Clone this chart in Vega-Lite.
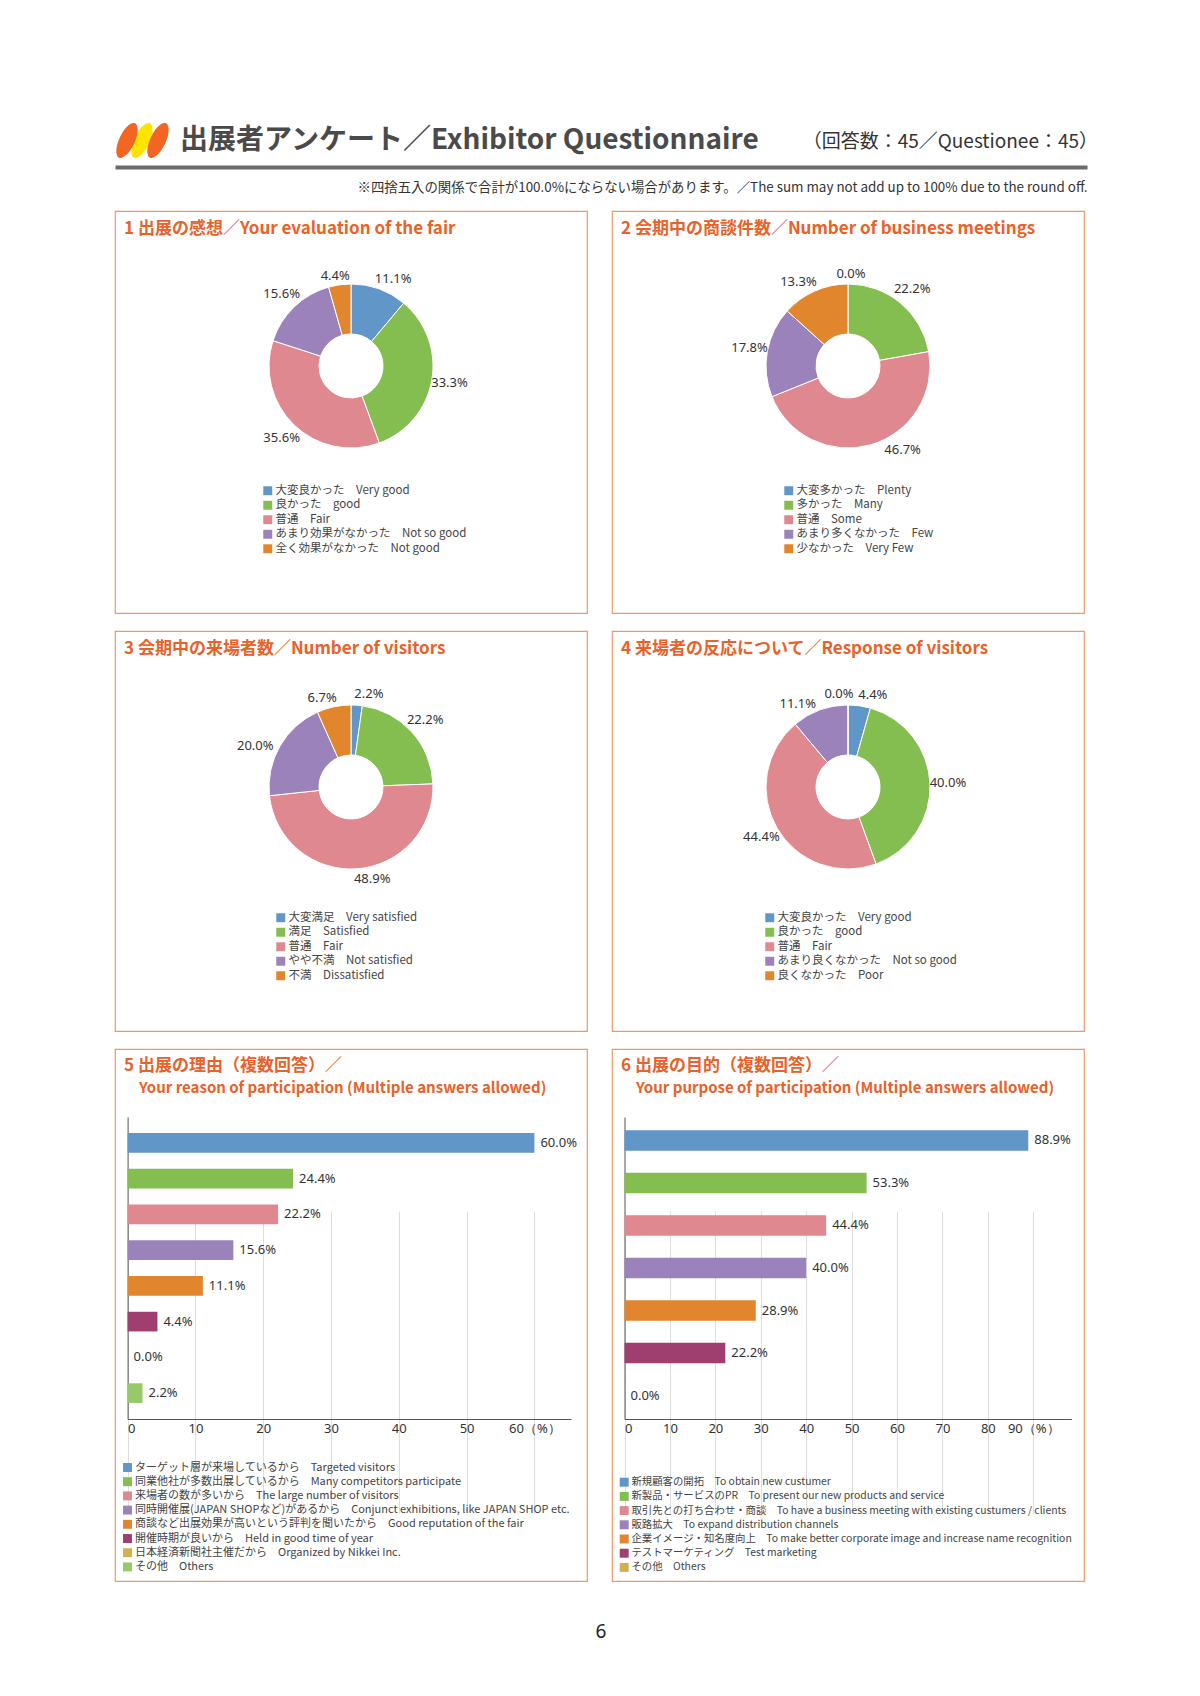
{
  "$schema": "https://vega.github.io/schema/vega-lite/v6.json",
  "padding": {"top": 114, "left": 114, "right": 0, "bottom": 0},
  "background": "#ffffff",
  "spacing": 16,
  "resolve": {"scale": {"color": "independent", "theta": "independent"}, "legend": {"color": "independent"}},
  "vconcat": [
    {
      "width": 972,
      "height": 53,
      "view": {"stroke": null},
      "encoding": {
        "x": {
          "field": "side", "type": "nominal",
          "scale": {"type": "point", "domain": ["left", "right"], "padding": 0},
          "axis": {
            "orient": "bottom", "labels": false, "ticks": false, "grid": false, "domain": true,
            "domainWidth": 4, "domainColor": "#6b6b6b",
            "title": "※四捨五入の関係で合計が100.0%にならない場合があります。／The sum may not add up to 100% due to the round off.",
            "titleAnchor": "end", "titleFont": "Noto Sans CJK JP", "titleFontSize": 13.4,
            "titleFontWeight": "normal", "titleColor": "#333333", "titlePadding": 13
          }
        }
      },
      "layer": [
        {
          "data": {"values": [{"side": "left"}]},
          "mark": {"type": "point", "shape": "M35.04,-17.21A8,19,25,0,1,18.96,17.21A8,19,25,0,1,35.04,-17.21Z", "size": 4, "filled": true, "color": "#ffe400", "opacity": 1, "strokeWidth": 0}
        },
        {
          "data": {"values": [{"side": "left"}]},
          "mark": {"type": "point", "shape": "M20.04,-17.21A8,19,25,0,1,3.96,17.21A8,19,25,0,1,20.04,-17.21ZM51.04,-17.21A8,19,25,0,1,34.96,17.21A8,19,25,0,1,51.04,-17.21Z", "size": 4, "filled": true, "color": "#f26522", "opacity": 1, "strokeWidth": 0}
        },
        {
          "data": {"values": [{"side": "left", "t": "出展者アンケート／Exhibitor Questionnaire"}]},
          "mark": {"type": "text", "align": "left", "baseline": "middle", "dx": 65, "font": "Noto Sans CJK JP", "fontSize": 28, "fontWeight": "bold", "color": "#4a4a4a"},
          "encoding": {"text": {"field": "t"}}
        },
        {
          "data": {"values": [{"side": "right", "t": "（回答数：45／Questionee：45）"}]},
          "mark": {"type": "text", "align": "right", "baseline": "middle", "dx": 11, "dy": 1, "font": "Noto Sans CJK JP", "fontSize": 19, "color": "#333333"},
          "encoding": {"text": {"field": "t"}}
        }
      ]
    },
    {
      "spacing": 23,
      "resolve": {"scale": {"color": "independent", "theta": "independent"}, "legend": {"color": "independent"}},
      "hconcat": [
        {
          "width": 472, "height": 402,
          "view": {"stroke": "#f0976a", "strokeWidth": 1.2},
          "title": {"text": "1 出展の感想／Your evaluation of the fair", "offset": -27},
          "data": {"values": [
            {"k": 1, "cat": "大変良かった　Very good", "v": 0.111},
            {"k": 2, "cat": "良かった　good", "v": 0.333},
            {"k": 3, "cat": "普通　Fair", "v": 0.356},
            {"k": 4, "cat": "あまり効果がなかった　Not so good", "v": 0.156},
            {"k": 5, "cat": "全く効果がなかった　Not good", "v": 0.044}
          ]},
          "encoding": {
            "theta": {"field": "v", "type": "quantitative", "stack": true},
            "order": {"field": "k", "type": "quantitative", "sort": "ascending"},
            "color": {
              "field": "cat", "type": "nominal",
              "scale": {"domain": ["大変良かった　Very good", "良かった　good", "普通　Fair", "あまり効果がなかった　Not so good", "全く効果がなかった　Not good"], "range": ["#6196c9", "#84bd50", "#e0888f", "#9b82bb", "#e2862d"]},
              "legend": {"orient": "none", "legendX": 147, "legendY": 274, "title": null}
            }
          },
          "layer": [
            {"mark": {"type": "arc", "innerRadius": 32, "outerRadius": 82, "stroke": "#ffffff", "strokeWidth": 1, "yOffset": -46}},
            {
              "mark": {"type": "text", "radius": 100, "yOffset": -46, "font": "Noto Sans", "fontSize": 13},
              "encoding": {"text": {"condition": {"test": "indexof([2,3,4], datum.k) >= 0", "field": "v", "type": "quantitative", "format": ".1%"}, "value": ""}, "color": {"value": "#333333"}, "detail": {"field": "cat", "type": "nominal"}}
            },
            {
              "mark": {"type": "text", "radius": 100, "yOffset": -46, "dx": 8, "dy": 7, "font": "Noto Sans", "fontSize": 13},
              "encoding": {"text": {"condition": {"test": "datum.k == 1", "field": "v", "type": "quantitative", "format": ".1%"}, "value": ""}, "color": {"value": "#333333"}, "detail": {"field": "cat", "type": "nominal"}}
            },
            {
              "mark": {"type": "text", "radius": 100, "yOffset": -46, "dx": -2, "dy": 9, "font": "Noto Sans", "fontSize": 13},
              "encoding": {"text": {"condition": {"test": "datum.k == 5", "field": "v", "type": "quantitative", "format": ".1%"}, "value": ""}, "color": {"value": "#333333"}, "detail": {"field": "cat", "type": "nominal"}}
            }
          ]
        },
        {
          "width": 472, "height": 402,
          "view": {"stroke": "#f0976a", "strokeWidth": 1.2},
          "title": {"text": "2 会期中の商談件数／Number of business meetings", "offset": -27},
          "data": {"values": [
            {"k": 1, "cat": "大変多かった　Plenty", "v": 0.0},
            {"k": 2, "cat": "多かった　Many", "v": 0.222},
            {"k": 3, "cat": "普通　Some", "v": 0.467},
            {"k": 4, "cat": "あまり多くなかった　Few", "v": 0.178},
            {"k": 5, "cat": "少なかった　Very Few", "v": 0.133}
          ]},
          "encoding": {
            "theta": {"field": "v", "type": "quantitative", "stack": true},
            "order": {"field": "k", "type": "quantitative", "sort": "ascending"},
            "color": {
              "field": "cat", "type": "nominal",
              "scale": {"domain": ["大変多かった　Plenty", "多かった　Many", "普通　Some", "あまり多くなかった　Few", "少なかった　Very Few"], "range": ["#6196c9", "#84bd50", "#e0888f", "#9b82bb", "#e2862d"]},
              "legend": {"orient": "none", "legendX": 171, "legendY": 274, "title": null}
            }
          },
          "layer": [
            {"mark": {"type": "arc", "innerRadius": 32, "outerRadius": 82, "stroke": "#ffffff", "strokeWidth": 1, "yOffset": -46}},
            {
              "mark": {"type": "text", "radius": 100, "yOffset": -46, "font": "Noto Sans", "fontSize": 13},
              "encoding": {"text": {"condition": {"test": "indexof([2,4], datum.k) >= 0", "field": "v", "type": "quantitative", "format": ".1%"}, "value": ""}, "color": {"value": "#333333"}, "detail": {"field": "cat", "type": "nominal"}}
            },
            {
              "mark": {"type": "text", "radius": 100, "yOffset": -46, "dx": 3, "dy": 8, "font": "Noto Sans", "fontSize": 13},
              "encoding": {"text": {"condition": {"test": "datum.k == 1", "field": "v", "type": "quantitative", "format": ".1%"}, "value": ""}, "color": {"value": "#333333"}, "detail": {"field": "cat", "type": "nominal"}}
            },
            {
              "mark": {"type": "text", "radius": 100, "yOffset": -46, "dx": 27, "dy": -12, "font": "Noto Sans", "fontSize": 13},
              "encoding": {"text": {"condition": {"test": "datum.k == 3", "field": "v", "type": "quantitative", "format": ".1%"}, "value": ""}, "color": {"value": "#333333"}, "detail": {"field": "cat", "type": "nominal"}}
            },
            {
              "mark": {"type": "text", "radius": 100, "yOffset": -46, "dx": -9, "dy": 7, "font": "Noto Sans", "fontSize": 13},
              "encoding": {"text": {"condition": {"test": "datum.k == 5", "field": "v", "type": "quantitative", "format": ".1%"}, "value": ""}, "color": {"value": "#333333"}, "detail": {"field": "cat", "type": "nominal"}}
            }
          ]
        }
      ]
    },
    {
      "spacing": 23,
      "resolve": {"scale": {"color": "independent", "theta": "independent"}, "legend": {"color": "independent"}},
      "hconcat": [
        {
          "width": 472, "height": 400,
          "view": {"stroke": "#f0976a", "strokeWidth": 1.2},
          "title": {"text": "3 会期中の来場者数／Number of visitors", "offset": -27},
          "data": {"values": [
            {"k": 1, "cat": "大変満足　Very satisfied", "v": 0.022},
            {"k": 2, "cat": "満足　Satisfied", "v": 0.222},
            {"k": 3, "cat": "普通　Fair", "v": 0.489},
            {"k": 4, "cat": "やや不満　Not satisfied", "v": 0.200},
            {"k": 5, "cat": "不満　Dissatisfied", "v": 0.067}
          ]},
          "encoding": {
            "theta": {"field": "v", "type": "quantitative", "stack": true},
            "order": {"field": "k", "type": "quantitative", "sort": "ascending"},
            "color": {
              "field": "cat", "type": "nominal",
              "scale": {"domain": ["大変満足　Very satisfied", "満足　Satisfied", "普通　Fair", "やや不満　Not satisfied", "不満　Dissatisfied"], "range": ["#6196c9", "#84bd50", "#e0888f", "#9b82bb", "#e2862d"]},
              "legend": {"orient": "none", "legendX": 160, "legendY": 281, "title": null}
            }
          },
          "layer": [
            {"mark": {"type": "arc", "innerRadius": 32, "outerRadius": 82, "stroke": "#ffffff", "strokeWidth": 1, "yOffset": -44}},
            {
              "mark": {"type": "text", "radius": 100, "yOffset": -44, "font": "Noto Sans", "fontSize": 13},
              "encoding": {"text": {"condition": {"test": "datum.k == 2", "field": "v", "type": "quantitative", "format": ".1%"}, "value": ""}, "color": {"value": "#333333"}, "detail": {"field": "cat", "type": "nominal"}}
            },
            {
              "mark": {"type": "text", "radius": 100, "yOffset": -44, "dx": 11, "dy": 7, "font": "Noto Sans", "fontSize": 13},
              "encoding": {"text": {"condition": {"test": "datum.k == 1", "field": "v", "type": "quantitative", "format": ".1%"}, "value": ""}, "color": {"value": "#333333"}, "detail": {"field": "cat", "type": "nominal"}}
            },
            {
              "mark": {"type": "text", "radius": 100, "yOffset": -44, "dx": 14, "dy": -8, "font": "Noto Sans", "fontSize": 13},
              "encoding": {"text": {"condition": {"test": "datum.k == 3", "field": "v", "type": "quantitative", "format": ".1%"}, "value": ""}, "color": {"value": "#333333"}, "detail": {"field": "cat", "type": "nominal"}}
            },
            {
              "mark": {"type": "text", "radius": 100, "yOffset": -44, "dx": -9, "dy": 9, "font": "Noto Sans", "fontSize": 13},
              "encoding": {"text": {"condition": {"test": "datum.k == 4", "field": "v", "type": "quantitative", "format": ".1%"}, "value": ""}, "color": {"value": "#333333"}, "detail": {"field": "cat", "type": "nominal"}}
            },
            {
              "mark": {"type": "text", "radius": 100, "yOffset": -44, "dx": -8, "dy": 9, "font": "Noto Sans", "fontSize": 13},
              "encoding": {"text": {"condition": {"test": "datum.k == 5", "field": "v", "type": "quantitative", "format": ".1%"}, "value": ""}, "color": {"value": "#333333"}, "detail": {"field": "cat", "type": "nominal"}}
            }
          ]
        },
        {
          "width": 472, "height": 400,
          "view": {"stroke": "#f0976a", "strokeWidth": 1.2},
          "title": {"text": "4 来場者の反応について／Response of visitors", "offset": -27},
          "data": {"values": [
            {"k": 1, "cat": "大変良かった　Very good", "v": 0.044},
            {"k": 2, "cat": "良かった　good", "v": 0.400},
            {"k": 3, "cat": "普通　Fair", "v": 0.444},
            {"k": 4, "cat": "あまり良くなかった　Not so good", "v": 0.111},
            {"k": 5, "cat": "良くなかった　Poor", "v": 0.0}
          ]},
          "encoding": {
            "theta": {"field": "v", "type": "quantitative", "stack": true},
            "order": {"field": "k", "type": "quantitative", "sort": "ascending"},
            "color": {
              "field": "cat", "type": "nominal",
              "scale": {"domain": ["大変良かった　Very good", "良かった　good", "普通　Fair", "あまり良くなかった　Not so good", "良くなかった　Poor"], "range": ["#6196c9", "#84bd50", "#e0888f", "#9b82bb", "#e2862d"]},
              "legend": {"orient": "none", "legendX": 152, "legendY": 281, "title": null}
            }
          },
          "layer": [
            {"mark": {"type": "arc", "innerRadius": 32, "outerRadius": 82, "stroke": "#ffffff", "strokeWidth": 1, "yOffset": -44}},
            {
              "mark": {"type": "text", "radius": 100, "yOffset": -44, "font": "Noto Sans", "fontSize": 13},
              "encoding": {"text": {"condition": {"test": "indexof([2,3], datum.k) >= 0", "field": "v", "type": "quantitative", "format": ".1%"}, "value": ""}, "color": {"value": "#333333"}, "detail": {"field": "cat", "type": "nominal"}}
            },
            {
              "mark": {"type": "text", "radius": 100, "yOffset": -44, "dx": 11, "dy": 7, "font": "Noto Sans", "fontSize": 13},
              "encoding": {"text": {"condition": {"test": "datum.k == 1", "field": "v", "type": "quantitative", "format": ".1%"}, "value": ""}, "color": {"value": "#333333"}, "detail": {"field": "cat", "type": "nominal"}}
            },
            {
              "mark": {"type": "text", "radius": 100, "yOffset": -44, "dx": -16, "dy": 11, "font": "Noto Sans", "fontSize": 13},
              "encoding": {"text": {"condition": {"test": "datum.k == 4", "field": "v", "type": "quantitative", "format": ".1%"}, "value": ""}, "color": {"value": "#333333"}, "detail": {"field": "cat", "type": "nominal"}}
            },
            {
              "mark": {"type": "text", "radius": 100, "yOffset": -44, "dx": -9, "dy": 7, "font": "Noto Sans", "fontSize": 13},
              "encoding": {"text": {"condition": {"test": "datum.k == 5", "field": "v", "type": "quantitative", "format": ".1%"}, "value": ""}, "color": {"value": "#333333"}, "detail": {"field": "cat", "type": "nominal"}}
            }
          ]
        }
      ]
    },
    {
      "spacing": 23,
      "resolve": {"scale": {"color": "independent", "theta": "independent"}, "legend": {"color": "independent"}},
      "hconcat": [
        {
          "width": 472, "height": 532,
          "view": {"stroke": "#f0976a", "strokeWidth": 1.2},
          "title": {"text": "5 出展の理由（複数回答）／", "subtitle": "\u200b\u3000Your reason of participation (Multiple answers allowed)", "offset": -47.5},
          "data": {"values": [
            {"k": 1, "cat": "ターゲット層が来場しているから　Targeted visitors", "v": 0.600},
            {"k": 2, "cat": "同業他社が多数出展しているから　Many competitors participate", "v": 0.244},
            {"k": 3, "cat": "来場者の数が多いから　The large number of visitors", "v": 0.222},
            {"k": 4, "cat": "同時開催展(JAPAN SHOPなど)があるから　Conjunct exhibitions, like JAPAN SHOP etc.", "v": 0.156},
            {"k": 5, "cat": "商談など出展効果が高いという評判を聞いたから　Good reputation of the fair", "v": 0.111},
            {"k": 6, "cat": "開催時期が良いから　Held in good time of year", "v": 0.044},
            {"k": 7, "cat": "日本経済新聞社主催だから　Organized by Nikkei Inc.", "v": 0.0},
            {"k": 8, "cat": "その他　Others", "v": 0.022}
          ]},
          "encoding": {
            "y": {
              "field": "cat", "type": "nominal", "sort": null,
              "scale": {"range": [68, 370], "paddingInner": 0.45, "paddingOuter": 0.45},
              "axis": {"orient": "left", "offset": -12.6, "labels": false, "ticks": false, "grid": false, "title": null, "domainColor": "#555555"}
            },
            "x": {
              "field": "v", "type": "quantitative",
              "scale": {"domain": [0, 0.654], "range": [12.6, 456], "nice": false},
              "axis": {"orient": "bottom", "offset": -162, "values": [0, 0.1, 0.2, 0.3, 0.4, 0.5, 0.6], "labelExpr": "datum.value >= 0.59 ? '60（%）' : format(datum.value * 100, 'd')", "grid": true, "gridColor": "#dedede", "title": null}
            }
          },
          "layer": [
            {
              "mark": {"type": "bar"},
              "encoding": {
                "color": {
                  "field": "cat", "type": "nominal",
                  "scale": {"domain": ["ターゲット層が来場しているから　Targeted visitors", "同業他社が多数出展しているから　Many competitors participate", "来場者の数が多いから　The large number of visitors", "同時開催展(JAPAN SHOPなど)があるから　Conjunct exhibitions, like JAPAN SHOP etc.", "商談など出展効果が高いという評判を聞いたから　Good reputation of the fair", "開催時期が良いから　Held in good time of year", "日本経済新聞社主催だから　Organized by Nikkei Inc.", "その他　Others"], "range": ["#6196c9", "#84bd50", "#e0888f", "#9b82bb", "#e2862d", "#9f3f70", "#cfb14f", "#96c96a"]},
                  "legend": {"orient": "none", "legendX": 7, "legendY": 413, "title": null, "labelFontSize": 11, "rowPadding": 2.2}
                }
              }
            },
            {
              "mark": {"type": "text", "align": "left", "baseline": "middle", "dx": 6, "font": "Noto Sans", "fontSize": 13, "color": "#333333"},
              "encoding": {"text": {"field": "v", "type": "quantitative", "format": ".1%"}}
            }
          ]
        },
        {
          "width": 472, "height": 532,
          "view": {"stroke": "#f0976a", "strokeWidth": 1.2},
          "title": {"text": "6 出展の目的（複数回答）／", "subtitle": "\u200b\u3000Your purpose of participation (Multiple answers allowed)", "offset": -47.5},
          "data": {"values": [
            {"k": 1, "cat": "新規顧客の開拓　To obtain new custumer", "v": 0.889},
            {"k": 2, "cat": "新製品・サービスのPR　To present our new products and service", "v": 0.533},
            {"k": 3, "cat": "取引先との打ち合わせ・商談　To have a business meeting with existing custumers / clients", "v": 0.444},
            {"k": 4, "cat": "販路拡大　To expand distribution channels", "v": 0.400},
            {"k": 5, "cat": "企業イメージ・知名度向上　To make better corporate image and increase name recognition", "v": 0.289},
            {"k": 6, "cat": "テストマーケティング　Test marketing", "v": 0.222},
            {"k": 7, "cat": "その他　Others", "v": 0.0}
          ]},
          "encoding": {
            "y": {
              "field": "cat", "type": "nominal", "sort": null,
              "scale": {"range": [68, 370], "paddingInner": 0.515, "paddingOuter": 0.31},
              "axis": {"orient": "left", "offset": -12.5, "labels": false, "ticks": false, "grid": false, "title": null, "domainColor": "#555555"}
            },
            "x": {
              "field": "v", "type": "quantitative",
              "scale": {"domain": [0, 0.984], "range": [12.5, 459.4], "nice": false},
              "axis": {"orient": "bottom", "offset": -162, "values": [0, 0.1, 0.2, 0.3, 0.4, 0.5, 0.6, 0.7, 0.8, 0.9], "labelExpr": "datum.value >= 0.89 ? '90（%）' : format(datum.value * 100, 'd')", "grid": true, "gridColor": "#dedede", "title": null}
            }
          },
          "layer": [
            {
              "mark": {"type": "bar"},
              "encoding": {
                "color": {
                  "field": "cat", "type": "nominal",
                  "scale": {"domain": ["新規顧客の開拓　To obtain new custumer", "新製品・サービスのPR　To present our new products and service", "取引先との打ち合わせ・商談　To have a business meeting with existing custumers / clients", "販路拡大　To expand distribution channels", "企業イメージ・知名度向上　To make better corporate image and increase name recognition", "テストマーケティング　Test marketing", "その他　Others"], "range": ["#6196c9", "#84bd50", "#e0888f", "#9b82bb", "#e2862d", "#9f3f70", "#cfb14f"]},
                  "legend": {"orient": "none", "legendX": 7, "legendY": 428, "title": null, "labelFontSize": 10.4, "rowPadding": 3.2}
                }
              }
            },
            {
              "mark": {"type": "text", "align": "left", "baseline": "middle", "dx": 6, "font": "Noto Sans", "fontSize": 13, "color": "#333333"},
              "encoding": {"text": {"field": "v", "type": "quantitative", "format": ".1%"}}
            }
          ]
        }
      ]
    },
    {
      "width": 972,
      "height": 68,
      "view": {"stroke": null},
      "data": {"values": [{"p": "6"}]},
      "mark": {"type": "text", "font": "Noto Sans", "fontSize": 19, "color": "#222222"},
      "encoding": {"text": {"field": "p"}}
    }
  ],
  "config": {
    "font": "Noto Sans CJK JP",
    "view": {"stroke": "#f0976a", "strokeWidth": 1.2},
    "title": {"anchor": "start", "frame": "group", "baseline": "top", "dx": 9, "color": "#e8622a", "font": "Noto Sans CJK JP", "fontSize": 17, "fontWeight": "bold", "subtitleColor": "#e8622a", "subtitleFont": "Noto Sans CJK JP", "subtitleFontSize": 15, "subtitleFontWeight": "bold", "subtitlePadding": 5.5},
    "legend": {"symbolType": "square", "symbolSize": 80, "symbolStrokeWidth": 0, "labelFont": "Noto Sans CJK JP", "labelFontSize": 11.5, "labelColor": "#444444", "rowPadding": 1.5, "labelLimit": 600, "labelOffset": 2, "padding": 0},
    "axis": {"labelFont": "Noto Sans", "labelFontSize": 13, "labelColor": "#333333", "domainColor": "#555555", "ticks": false, "labelPadding": 3}
  }
}
